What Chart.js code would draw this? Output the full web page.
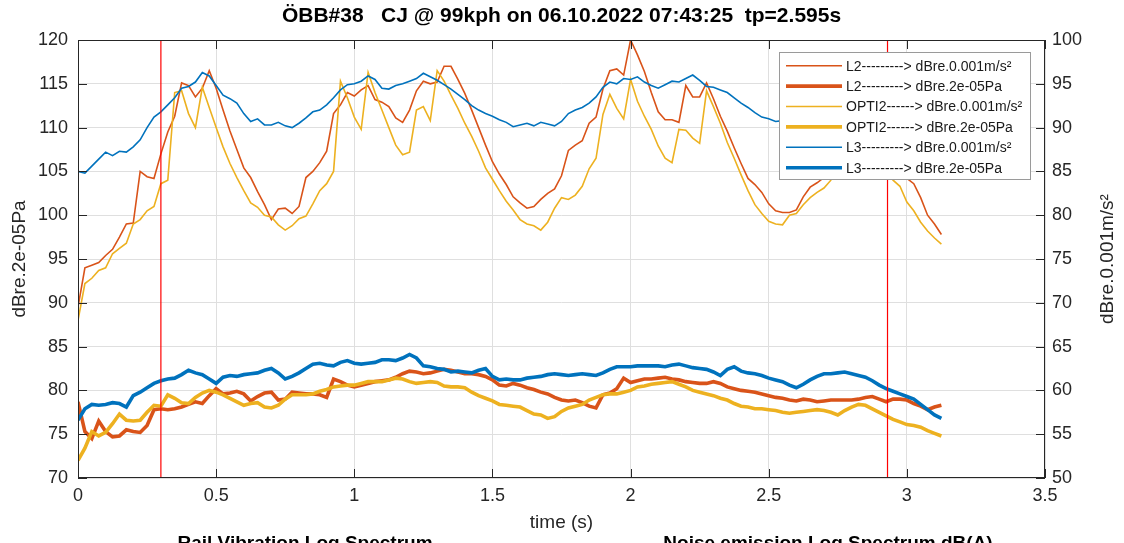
<!DOCTYPE html>
<html>
<head>
<meta charset="utf-8">
<script src="https://cdn.jsdelivr.net/npm/chart.js@4.4.0/dist/chart.umd.min.js"></script>
<style>
html,body{margin:0;padding:0;background:#fff;}
</style>
</head>
<body>
<canvas id="grafico" width="1124" height="543"></canvas>
<script>
// time base (s)
var tiempo = [0,0.025,0.05,0.075,0.1,0.125,0.15,0.175,0.2,0.225,
  0.25,0.275,0.3,0.325,0.35,0.375,0.4,0.425,0.45,0.475,
  0.5,0.525,0.55,0.575,0.6,0.625,0.65,0.675,0.7,0.725,
  0.75,0.775,0.8,0.825,0.85,0.875,0.9,0.925,0.95,0.975,
  1,1.025,1.05,1.075,1.1,1.125,1.15,1.175,1.2,1.225,
  1.25,1.275,1.3,1.325,1.35,1.375,1.4,1.425,1.45,1.475,
  1.5,1.525,1.55,1.575,1.6,1.625,1.65,1.675,1.7,1.725,
  1.75,1.775,1.8,1.825,1.85,1.875,1.9,1.925,1.95,1.975,
  2,2.025,2.05,2.075,2.1,2.125,2.15,2.175,2.2,2.225,
  2.25,2.275,2.3,2.325,2.35,2.375,2.4,2.425,2.45,2.475,
  2.5,2.525,2.55,2.575,2.6,2.625,2.65,2.675,2.7,2.725,
  2.75,2.775,2.8,2.825,2.85,2.875,2.9,2.925,2.95,2.975,
  3,3.025,3.05,3.075,3.1,3.125];

// rail vibration, dBre.0.001m/s² (right axis)
var L2_vib = [69.5,74.0,74.3,74.6,75.4,76.1,77.5,79.0,79.1,85.0,
  84.4,84.2,87.0,89.5,91.3,95.1,94.8,93.5,94.5,96.5,
  94.5,92.0,89.6,87.5,85.4,84.3,82.7,81.2,79.5,80.7,
  80.8,80.2,81.0,84.3,85.0,86.0,87.3,91.6,92.6,94.0,
  93.6,94.3,94.8,93.2,92.9,92.4,91.1,90.6,92.0,94.2,
  95.3,95.0,95.2,97.0,97.0,95.5,93.9,92.0,90.0,88.0,
  86.1,84.7,83.5,82.1,81.4,80.8,81.0,81.8,82.5,83.0,
  84.5,87.4,88.0,88.5,90.5,91.2,94.4,96.5,96.7,96.0,
  100.0,98.3,96.4,94.0,91.8,90.9,90.9,90.6,94.8,93.5,
  93.5,95.1,93.3,91.3,89.6,87.7,85.9,84.2,83.5,82.6,
  81.3,80.5,80.3,80.3,80.6,82.1,83.2,83.7,84.3,85.8,
  87.5,89.0,90.5,92.0,93.0,91.0,88.5,86.0,85.3,84.8,
  84.2,83.6,82.0,80.0,79.0,77.8];
var OPTI2_vib = [68.0,72.2,72.8,73.7,74.0,75.6,76.2,76.8,79.0,79.5,
  80.5,81.0,83.6,84.0,94.0,94.2,91.6,90.0,94.6,92.3,
  90.0,87.8,85.9,84.3,82.8,81.4,80.9,80.0,79.8,78.9,
  78.3,78.8,79.6,79.9,81.3,82.8,83.6,85.0,95.3,93.4,
  91.2,89.8,96.3,94.0,92.0,90.0,88.0,86.9,87.2,92.0,
  92.4,90.8,96.5,95.3,93.7,92.2,90.5,89.0,87.3,85.4,
  84.1,82.8,81.6,80.6,79.5,79.0,78.8,78.3,79.2,80.8,
  82.0,81.8,82.3,83.3,85.3,86.5,91.5,93.8,92.2,91.0,
  95.5,93.0,91.3,89.8,87.9,86.5,86.0,89.8,89.7,88.8,
  88.2,94.2,92.4,90.5,88.3,86.5,84.6,82.8,81.2,80.2,
  79.3,79.0,78.9,80.0,80.2,81.2,82.0,82.6,83.1,84.0,
  86.0,88.0,90.0,91.5,92.0,90.0,87.5,85.0,84.0,83.3,
  81.5,80.5,79.2,78.2,77.4,76.7];
var L3_vib = [85.0,84.8,85.6,86.4,87.2,86.8,87.3,87.2,87.8,88.6,
  90.0,91.2,91.8,92.6,93.4,94.5,94.7,95.2,96.3,95.9,
  94.8,93.7,93.3,92.8,91.6,90.7,91.0,90.3,90.3,90.6,
  90.2,90.0,90.5,91.1,91.8,92.0,92.6,93.4,94.3,94.9,
  95.0,95.3,95.9,95.5,94.5,94.4,94.8,95.0,95.3,95.6,
  96.2,95.8,95.4,94.9,94.4,93.8,93.2,92.5,92.0,91.6,
  91.3,90.9,90.6,90.1,90.3,90.5,90.2,90.6,90.4,90.2,
  90.7,91.6,92.0,92.3,92.8,93.5,94.6,95.2,95.0,95.6,
  95.5,95.8,95.2,94.8,94.5,94.9,95.3,95.2,95.6,96.0,
  95.4,94.7,94.6,94.3,94.0,93.4,92.8,92.3,91.7,91.2,
  91.0,90.7,90.8,91.0,90.6,91.2,91.8,92.5,93.0,93.4,
  93.0,92.6,92.0,91.5,91.0,90.4,89.8,89.0,88.5,88.0,
  87.6,87.2,86.9,86.6,86.3,86.0];

// noise, dBre.2e-05Pa (left axis)
var L2_pa = [78.7,75.3,74.5,76.5,75.3,74.7,74.8,75.5,75.3,75.2,
  76.0,77.8,77.9,77.8,77.9,78.1,78.4,78.7,78.5,79.4,
  80.2,79.6,79.7,79.9,79.6,78.8,79.3,79.7,79.8,78.9,
  79.0,79.8,79.7,79.6,79.6,79.5,79.2,81.3,81.0,80.6,
  80.4,80.6,80.8,81.0,81.1,81.2,81.5,81.9,82.2,82.1,
  81.9,82.0,82.2,82.4,82.3,82.1,81.9,81.9,81.8,81.6,
  81.2,80.6,80.5,80.8,80.6,80.3,80.1,79.8,79.6,79.2,
  78.9,78.8,78.9,78.6,78.2,78.0,79.5,79.7,80.2,81.4,
  80.9,81.1,81.3,81.3,81.4,81.5,81.3,81.2,81.0,80.9,
  80.8,80.8,81.0,80.8,80.4,80.2,80.0,79.9,79.8,79.6,
  79.4,79.2,79.1,78.9,78.8,79.0,78.9,78.7,78.8,78.9,
  78.9,78.9,78.9,79.0,79.2,79.3,79.0,78.7,79.0,79.0,
  78.9,78.5,78.2,77.8,78.1,78.3];
var OPTI2_pa = [72.0,73.4,75.3,74.8,75.2,76.2,77.3,76.6,76.5,76.6,
  77.5,78.3,78.2,79.5,79.1,78.6,78.5,79.2,79.7,80.0,
  79.8,79.5,79.1,78.7,78.3,78.5,78.6,78.1,78.0,78.3,
  79.0,79.5,79.5,79.5,79.6,79.9,80.1,80.4,80.5,80.6,
  80.6,80.8,81.0,81.0,81.0,81.2,81.4,81.3,81.0,80.8,
  80.9,81.0,80.9,80.5,80.4,80.4,80.3,79.8,79.4,79.1,
  78.8,78.4,78.3,78.2,78.1,77.7,77.3,77.2,76.8,77.0,
  77.6,78.0,78.2,78.4,78.9,79.2,79.5,79.6,79.6,79.8,
  80.0,80.4,80.5,80.7,80.8,80.9,81.0,80.7,80.4,80.0,
  79.8,79.6,79.4,79.1,78.9,78.5,78.2,78.1,77.9,77.9,
  77.8,77.7,77.5,77.4,77.5,77.6,77.7,77.8,77.7,77.5,
  77.2,77.7,78.1,78.4,78.3,77.9,77.5,77.1,76.7,76.4,
  76.1,76.0,75.8,75.4,75.1,74.8];
var L3_pa = [76.6,77.9,78.4,78.3,78.4,78.6,78.5,78.1,79.4,79.8,
  80.3,80.8,81.1,81.3,81.4,81.8,82.3,82.0,81.8,81.3,
  80.8,81.5,81.7,81.6,81.8,81.9,82.0,82.3,82.5,82.0,
  81.3,81.6,82.0,82.5,83.0,83.1,82.9,82.8,83.2,83.4,
  83.1,83.0,83.1,83.2,83.5,83.5,83.4,83.7,84.1,83.7,
  82.8,82.7,82.5,82.4,82.1,82.2,82.1,82.0,82.3,82.5,
  81.6,81.2,81.3,81.2,81.2,81.4,81.5,81.6,81.8,81.9,
  81.8,81.7,81.8,81.9,81.8,81.7,82.0,82.4,82.7,82.7,
  82.7,82.8,82.8,82.8,82.8,82.7,82.9,83.0,82.8,82.6,
  82.5,82.4,82.1,81.7,82.4,82.7,82.2,82.0,81.9,81.7,
  81.4,81.2,81.0,80.6,80.3,80.7,81.2,81.6,81.9,81.9,
  82.0,82.1,81.9,81.7,81.5,81.1,80.6,80.2,79.9,79.6,
  79.3,79.0,78.4,77.8,77.2,76.8];

// passage markers (s)
var marcas = [0.3, 2.93];

var leyenda = [
  'L2---------> dBre.0.001m/s\u00b2',
  'L2---------> dBre.2e-05Pa',
  'OPTI2------> dBre.0.001m/s\u00b2',
  'OPTI2------> dBre.2e-05Pa',
  'L3---------> dBre.0.001m/s\u00b2',
  'L3---------> dBre.2e-05Pa'
];

var titulo = '\u00d6BB#38   CJ @ 99kph on 06.10.2022 07:43:25  tp=2.595s';
var subtitulos = ['Rail Vibration Log Spectrum', 'Noise emission Log Spectrum dB(A)'];

var NARANJA = '#D95319', AMARILLO = '#EDB120', AZUL = '#0072BD';
var FUENTE = '"Liberation Sans", Arial, Helvetica, sans-serif';
var GRIS = '#262626';

function puntos(valores){
    return valores.map(function(v, i){ return {x: tiempo[i], y: v}; });
}

var series = [
    {label: leyenda[0], data: puntos(L2_vib), borderColor: NARANJA, borderWidth: 1.6, yAxisID: 'yR', order: 7},
    {label: leyenda[1], data: puntos(L2_pa), borderColor: NARANJA, borderWidth: 3.6, yAxisID: 'yL', order: 6},
    {label: leyenda[2], data: puntos(OPTI2_vib), borderColor: AMARILLO, borderWidth: 1.6, yAxisID: 'yR', order: 5},
    {label: leyenda[3], data: puntos(OPTI2_pa), borderColor: AMARILLO, borderWidth: 3.6, yAxisID: 'yL', order: 4},
    {label: leyenda[4], data: puntos(L3_vib), borderColor: AZUL, borderWidth: 1.6, yAxisID: 'yR', order: 3},
    {label: leyenda[5], data: puntos(L3_pa), borderColor: AZUL, borderWidth: 3.6, yAxisID: 'yL', order: 2}
];
marcas.forEach(function(m){
    series.push({label: 'marca', data: [{x: m, y: 70}, {x: m, y: 120}], borderColor: 'rgb(255,0,0)',
        borderWidth: 1.2, yAxisID: 'yL', order: 1});
});
series.forEach(function(s){ s.pointRadius = 0; s.fill = false; s.tension = 0; });

var decoracion = {
    id: 'decoracion',
    afterDraw: function(chart){
        var c = chart.ctx, a = chart.chartArea;
        var sx = chart.scales.x, syL = chart.scales.yL, syR = chart.scales.yR;
        c.save();
        // box
        c.strokeStyle = GRIS; c.lineWidth = 1;
        c.strokeRect(Math.round(a.left) + 0.5, Math.round(a.top) + 0.5,
            Math.round(a.right - a.left) - 1, Math.round(a.bottom - a.top) - 1);
        // inward ticks
        c.beginPath();
        sx.ticks.forEach(function(t){
            var px = Math.round(sx.getPixelForValue(t.value)) + 0.5;
            c.moveTo(px, a.bottom); c.lineTo(px, a.bottom - 9);
            c.moveTo(px, a.top); c.lineTo(px, a.top + 9);
        });
        syL.ticks.forEach(function(t){
            var py = Math.round(syL.getPixelForValue(t.value)) + 0.5;
            c.moveTo(a.left, py); c.lineTo(a.left + 9, py);
        });
        syR.ticks.forEach(function(t){
            var py = Math.round(syR.getPixelForValue(t.value)) + 0.5;
            c.moveTo(a.right, py); c.lineTo(a.right - 9, py);
        });
        c.stroke();

        // titles
        c.fillStyle = '#000';
        c.textAlign = 'center';
        c.textBaseline = 'alphabetic';
        c.font = 'bold 21px ' + FUENTE;
        c.fillText(titulo, (a.left + a.right) / 2, 22);
        c.font = 'bold 19px ' + FUENTE;
        c.fillText(subtitulos[0], 305, 549);
        c.fillText(subtitulos[1], 828, 549);

        c.fillStyle = GRIS;
        c.font = '19px ' + FUENTE;
        c.textBaseline = 'middle';
        c.fillText('time (s)', (a.left + a.right) / 2, 523);
        var yc = (a.top + a.bottom) / 2;
        c.save(); c.translate(20, yc); c.rotate(-Math.PI / 2);
        c.fillText('dBre.2e-05Pa', 0, 0); c.restore();
        c.save(); c.translate(1108, yc); c.rotate(-Math.PI / 2);
        c.fillText('dBre.0.001m/s\u00b2', 0, 0); c.restore();

        // legend
        var lx = 779.5, ly = 52.5, lw = 251, lh = 127;
        c.fillStyle = '#fff';
        c.fillRect(lx, ly, lw, lh);
        c.strokeStyle = '#9a9a9a';
        c.strokeRect(lx, ly, lw, lh);
        c.font = '14px ' + FUENTE;
        c.textAlign = 'left';
        for (var i = 0; i < 6; i++){
            var yy = 65.7 + i * 20.4;
            c.strokeStyle = series[i].borderColor;
            c.lineWidth = series[i].borderWidth;
            c.beginPath(); c.moveTo(786, yy); c.lineTo(842, yy); c.stroke();
            c.fillStyle = '#1a1a1a';
            c.fillText(leyenda[i], 846, yy + 1);
        }
        c.restore();
    }
};

var ctx = document.getElementById('grafico');
var grafico = new Chart(ctx, {
    type: 'line',
    data: {datasets: series},
    options: {
        responsive: false,
        animation: false,
        devicePixelRatio: 1,
        layout: {padding: {top: 40, left: 0, right: 0, bottom: 0}},
        plugins: {legend: {display: false}, tooltip: {enabled: false}, title: {display: false}},
        scales: {
            x: {
                type: 'linear', min: 0, max: 3.5,
                ticks: {stepSize: 0.5, padding: 7, maxRotation: 0, autoSkip: false,
                    font: {size: 18, family: FUENTE}, color: GRIS,
                    callback: function(v){ return String(v); }},
                grid: {color: '#dfdfdf', drawTicks: false},
                border: {display: false},
                afterFit: function(s){ s.height = 65; }
            },
            yL: {
                position: 'left', min: 70, max: 120,
                ticks: {stepSize: 5, padding: 10, font: {size: 18, family: FUENTE}, color: GRIS},
                grid: {color: '#dfdfdf', drawTicks: false},
                border: {display: false},
                afterFit: function(s){ s.width = 78; }
            },
            yR: {
                position: 'right', min: 50, max: 100,
                ticks: {stepSize: 5, padding: 7, font: {size: 18, family: FUENTE}, color: GRIS},
                grid: {display: false, drawTicks: false},
                border: {display: false},
                afterFit: function(s){ s.width = 79; }
            }
        }
    },
    plugins: [decoracion]
});
</script>
</body>
</html>
